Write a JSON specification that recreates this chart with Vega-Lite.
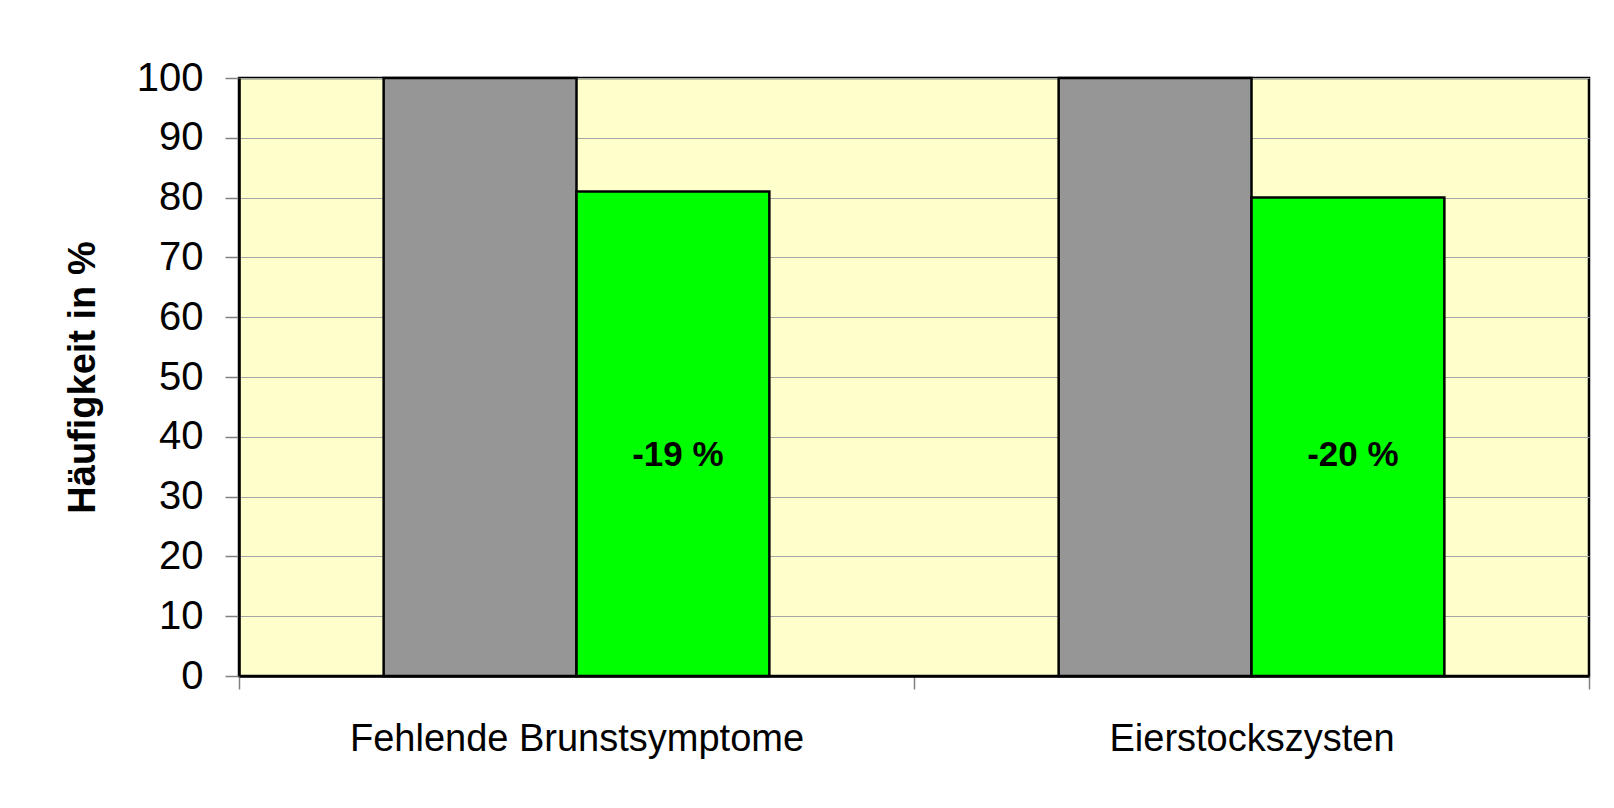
{
  "$schema": "https://vega.github.io/schema/vega-lite/v6.json",
  "width": 1350,
  "height": 598,
  "autosize": {"type": "none"},
  "padding": {"left": 239, "top": 78, "right": 25, "bottom": 132},
  "background": "white",
  "data": {
    "values": [
      {"kategorie": "Fehlende Brunstsymptome", "gruppe": "A", "wert": 100, "label": ""},
      {"kategorie": "Fehlende Brunstsymptome", "gruppe": "B", "wert": 81, "label": "-19 %"},
      {"kategorie": "Eierstockszysten", "gruppe": "A", "wert": 100, "label": ""},
      {"kategorie": "Eierstockszysten", "gruppe": "B", "wert": 80, "label": "-20 %"}
    ]
  },
  "encoding": {
    "x": {
      "field": "kategorie",
      "type": "nominal",
      "sort": ["Fehlende Brunstsymptome", "Eierstockszysten"],
      "scale": {"paddingInner": 0, "paddingOuter": 0},
      "axis": {
        "title": null,
        "labelAngle": 0,
        "labelLimit": 0,
        "labelFont": "Liberation Sans",
        "labelFontSize": 38,
        "labelColor": "black",
        "labelPadding": 31,
        "tickBand": "extent",
        "tickSize": 13,
        "tickColor": "#808080",
        "tickWidth": 1.5,
        "domainColor": "black",
        "domainWidth": 2.5
      }
    },
    "xOffset": {
      "field": "gruppe",
      "type": "nominal",
      "scale": {"paddingInner": 0, "paddingOuter": 0.75}
    }
  },
  "layer": [
    {
      "mark": {"type": "bar", "stroke": "black", "strokeWidth": 2.5},
      "encoding": {
        "y": {
          "field": "wert",
          "type": "quantitative",
          "scale": {"domain": [0, 100], "nice": false},
          "axis": {
            "title": "Häufigkeit  in %",
            "titleFont": "Liberation Sans",
            "titleFontSize": 38,
            "titleFontWeight": "bold",
            "titleColor": "black",
            "titlePadding": 34,
            "values": [0, 10, 20, 30, 40, 50, 60, 70, 80, 90, 100],
            "labelFont": "Liberation Sans",
            "labelFontSize": 40,
            "labelColor": "black",
            "labelPadding": 22,
            "tickSize": 14,
            "tickColor": "#808080",
            "tickWidth": 1.5,
            "domainColor": "black",
            "domainWidth": 2.5,
            "grid": true,
            "gridColor": "#a6a6a6",
            "gridWidth": 1
          }
        },
        "color": {
          "field": "gruppe",
          "type": "nominal",
          "scale": {"domain": ["A", "B"], "range": ["#969696", "#00FF00"]},
          "legend": null
        }
      }
    },
    {
      "mark": {"type": "text", "font": "Liberation Sans", "fontSize": 35, "fontWeight": "bold", "color": "black", "dx": 5},
      "encoding": {
        "y": {"datum": 37},
        "text": {"field": "label"}
      }
    }
  ],
  "config": {
    "view": {"fill": "#FFFFCC", "stroke": "black", "strokeWidth": 2.5}
  }
}
